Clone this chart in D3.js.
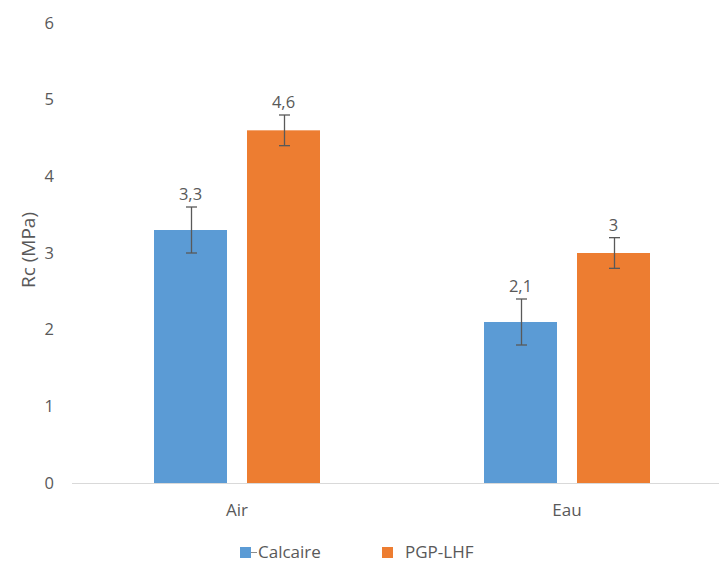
<!DOCTYPE html>
<html><head><meta charset="utf-8">
<script src="https://cdn.jsdelivr.net/npm/d3@7"></script>
<style>body{margin:0;background:#fff}svg{display:block}text{font-family:"Open Sans",sans-serif;fill:#595959}</style>
</head><body><svg id="c" width="719" height="563"></svg>
<script>
const categories = ["Air", "Eau"];
const seriesNames = ["Calcaire", "PGP-LHF"];
const calcaire = [3.3, 2.1];
const pgpLhf = [4.6, 3.0];
const calcaireErr = [0.3, 0.3];
const pgpLhfErr = [0.2, 0.2];
const labels = [["3,3", "2,1"], ["4,6", "3"]];
const yTicks = [0, 1, 2, 3, 4, 5, 6];
const colors = ["#5B9BD5", "#ED7D31"];

const values = [calcaire, pgpLhf];
const errs = [calcaireErr, pgpLhfErr];
const svg = d3.select("#c");
const y = d3.scaleLinear().domain([0, 6]).range([483, 23]);
const x0 = d3.scaleBand().domain(categories).range([72, 732]);
const x1 = d3.scaleBand().domain(seriesNames).range([82, 248]).paddingInner(20/93);
const FONT = '"Open Sans",sans-serif';

// baseline
svg.append("line").attr("x1", 72).attr("x2", 719).attr("y1", y(0)+0.5).attr("y2", y(0)+0.5)
  .attr("stroke", "#D9D9D9").attr("stroke-width", 1);

// y axis
const yAxis = d3.axisLeft(y).tickValues(yTicks).tickSize(0).tickPadding(0).tickFormat(d3.format("d"));
const ga = svg.append("g").attr("transform", "translate(54,0)").call(yAxis);
ga.select(".domain").remove();
ga.selectAll("text").style("font-size", "16.5px").attr("fill", "#595959").style("font-family", FONT);

svg.append("text").attr("transform", "translate(35,250) rotate(-90)").attr("text-anchor", "middle")
  .style("font-size", "19px").text("Rc (MPa)");

// x labels
const xAxis = d3.axisBottom(x0).tickSize(0).tickPadding(0);
const gx = svg.append("g").attr("transform", "translate(0,504)").call(xAxis);
gx.select(".domain").remove();
gx.selectAll("text").style("font-size", "17px").attr("fill", "#595959").style("font-family", FONT);

seriesNames.forEach((s, si) => {
  const g = svg.append("g");
  categories.forEach((c, ci) => {
    const v = values[si][ci], e = errs[si][ci];
    const bx = x0(c) + x1(s), bw = x1.bandwidth();
    g.append("rect").attr("x", bx).attr("y", y(v)).attr("width", bw).attr("height", y(0) - y(v))
      .attr("fill", colors[si]);
    const cx = Math.round(bx + bw/2) + 0.5;
    g.append("line").attr("x1", cx).attr("x2", cx).attr("y1", y(v+e)).attr("y2", y(v-e)).attr("stroke", "#595959").attr("stroke-width", 1.3);
    [v+e, v-e].forEach(t => g.append("line").attr("x1", cx-5.5).attr("x2", cx+5.5).attr("y1", y(t)).attr("y2", y(t)).attr("stroke", "#595959").attr("stroke-width", 1.3));
    g.append("text").attr("x", bx + bw/2).attr("y", y(v+e) - 7).attr("text-anchor", "middle")
      .style("font-size", "16.5px").text(labels[si][ci]);
  });
});

// legend
const legX = [240, 382];
const legTx = [258, 405];
seriesNames.forEach((s, i) => {
  svg.append("rect").attr("x", legX[i]).attr("y", 547).attr("width", 11).attr("height", 11).attr("fill", colors[i]);
  svg.append("text").attr("x", legTx[i]).attr("y", 558).style("font-size", "17px").text(s);
});
svg.append("line").attr("x1", 251).attr("x2", 257).attr("y1", 552.5).attr("y2", 552.5).attr("stroke", "#8c8c8c").attr("stroke-width", 1);
</script></body></html>
